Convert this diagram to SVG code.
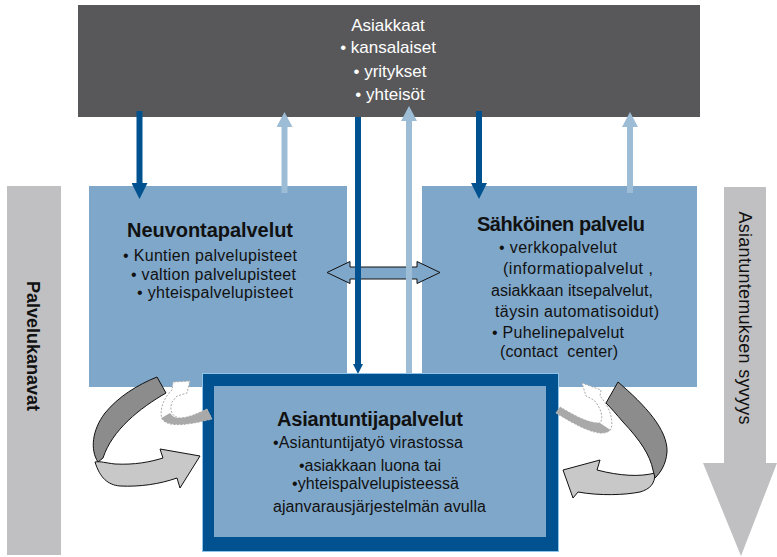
<svg xmlns="http://www.w3.org/2000/svg" width="777" height="557" viewBox="0 0 777 557">
<defs>
<style>
.t{font-family:"Liberation Sans",Arial,sans-serif;fill:#111}
.w{font-family:"Liberation Sans",Arial,sans-serif;fill:#fff;font-size:17px;text-anchor:middle}
.b{font-weight:bold;font-size:20px}
.r{font-size:16px}
.box{fill:#7fa7c9}
.dk{stroke:#00518f;stroke-width:6;fill:none}
.lt{stroke:#9dbcd6;stroke-width:6;fill:none}
.cd{fill:#8c8c8c;stroke:#111;stroke-width:1}
.cl{fill:#c8c8c8;stroke:#111;stroke-width:1}
.sw{fill:#fff;stroke:#aaa;stroke-width:1;stroke-dasharray:2 1.5}
.sg{fill:#a9a9a9}
</style>
<marker id="hd" markerUnits="userSpaceOnUse" markerWidth="16" markerHeight="16" viewBox="0 0 16 16" refX="1" refY="8" orient="auto"><path d="M0,0 L16,8 L0,16 Z" fill="#00518f"/></marker>
<marker id="hs" markerUnits="userSpaceOnUse" markerWidth="10" markerHeight="10" viewBox="0 0 10 10" refX="1" refY="5" orient="auto"><path d="M0,0 L10,5 L0,10 Z" fill="#00518f"/></marker>
<marker id="hl" markerUnits="userSpaceOnUse" markerWidth="15" markerHeight="16" viewBox="0 0 15 16" refX="1" refY="8" orient="auto"><path d="M0,0 L15,8 L0,16 Z" fill="#9dbcd6"/></marker>
</defs>

<g id="palvelukanavat">
<rect x="7" y="186" width="54" height="369" fill="#c0c0c2"/>
<text class="t" font-weight="bold" font-size="18" text-anchor="middle" transform="translate(33,346) rotate(90)" x="0" y="6">Palvelukanavat</text>
</g>

<g id="syvyys">
<path d="M724,187 L766,187 L766,463 L777,463 L741,556 L703,463 L724,463 Z" fill="#c0c0c2"/>
<text class="t" font-size="18" text-anchor="middle" textLength="213" transform="translate(745,318) rotate(90)" x="0" y="6">Asiantuntemuksen syvyys</text>
</g>

<g id="asiakkaat">
<rect x="78" y="5" width="622" height="112" fill="#58585a"/>
<text class="w" x="388" y="31">Asiakkaat</text>
<text class="w" x="388" y="53">• kansalaiset</text>
<text class="w" x="390" y="77">• yritykset</text>
<text class="w" x="390" y="100">• yhteisöt</text>
</g>

<g id="neuvontapalvelut">
<rect class="box" x="89" y="186" width="258" height="201"/>
<text class="t b" x="127" y="237" textLength="166">Neuvontapalvelut</text>
<text class="t r" x="123" y="261" textLength="174">• Kuntien palvelupisteet</text>
<text class="t r" x="131" y="280" textLength="165">• valtion palvelupisteet</text>
<text class="t r" x="137" y="298" textLength="156">• yhteispalvelupisteet</text>
</g>

<g id="sahkoinen">
<rect class="box" x="422" y="186" width="275" height="201"/>
<text class="t b" x="477" y="231" textLength="168">Sähköinen palvelu</text>
<text class="t r" x="499" y="253" textLength="118">• verkkopalvelut</text>
<text class="t r" x="503" y="274" textLength="150">(informatiopalvelut ,</text>
<text class="t r" x="491" y="296" textLength="162">asiakkaan itsepalvelut,</text>
<text class="t r" x="495" y="317" textLength="164">täysin automatisoidut)</text>
<text class="t r" x="492" y="338" textLength="132">• Puhelinepalvelut</text>
<text class="t r" x="500" y="357" textLength="118" style="white-space:pre">(contact  center)</text>
</g>

<g id="connectors">
<path d="M327,272.5 L350,261.5 L350,267 L417,267 L417,261.5 L440,272.5 L417,283.5 L417,279 L350,279 L350,283.5 Z" fill="#7fa7c9" stroke="#111" stroke-width="1"/>
<line class="dk" x1="139.5" y1="111" x2="139.5" y2="184" marker-end="url(#hd)"/>
<line class="lt" x1="284.5" y1="193" x2="284.5" y2="126" marker-end="url(#hl)"/>
<line class="dk" x1="358" y1="117" x2="358" y2="365" marker-end="url(#hs)"/>
<line class="lt" x1="409" y1="374" x2="409" y2="120" marker-end="url(#hl)"/>
<line class="dk" x1="479" y1="111" x2="479" y2="184" marker-end="url(#hd)"/>
<line class="lt" x1="630" y1="193" x2="630" y2="126" marker-end="url(#hl)"/>
</g>

<g id="asiantuntijapalvelut">
<rect x="202.5" y="373.5" width="356" height="178" fill="#00518f" stroke="#8ec3ea" stroke-width="1"/>
<rect class="box" x="214" y="386" width="332" height="151"/>
<text class="t b" x="277" y="426" textLength="186">Asiantuntijapalvelut</text>
<text class="t r" x="273" y="448" textLength="190">•Asiantuntijatyö virastossa</text>
<text class="t r" x="299" y="471" textLength="142">•asiakkaan luona tai</text>
<text class="t r" x="292" y="489" textLength="167">•yhteispalvelupisteessä</text>
<text class="t r" x="273" y="512" textLength="213">ajanvarausjärjestelmän avulla</text>
</g>

<g id="kierto-vasen">
<path class="cd" d="M157,377 L166,393 C140,408 112,430 103,458 L98,462 C90,450 92,430 105,413 C118,397 137,385 157,377 Z"/>
<path class="cl" d="M95,462 C100,461 106,463 115,464 C135,465 150,462 163,458 L160,449 L200,456 L180,488 L177,478 C160,484 140,487 120,486 C108,485 100,478 95,462 Z"/>
<path class="sw" d="M207,409 C197,414 187,418 180,418 C172,417 169,410 172,402 L177,396 L187,393 L190,381 L173,382 L172,390 C164,397 159,410 162,419 C167,426 180,427 212,419 Z"/>
<path class="sg" d="M207,409 C197,414 187,418 180,418 C175,418 172,416 170,413 L161.5,418 C166,426 180,427 212,419 Z"/>
</g>

<g id="kierto-oikea">
<path class="cl" d="M655,473 C640,477 620,476 597,470 L600,460 L563,470 L573,498 L578,492 C600,496 625,495 640,492 C650,489 655,484 655,473 Z"/>
<path class="cd" d="M618,382 C645,405 668,430 667,452 C666,465 660,473 655,478 L653,470 C650,455 640,440 623,422 C617,415 611,408 606,403 Z"/>
<path class="sw" d="M556,413 L560,407 C575,416 590,424 600,423 C604,418 601,408 594,400 L586,396 L582,383 L601,390 L600,396 C609,406 614,420 611,429 C605,437 590,434 556,413 Z"/>
<path class="sg" d="M556,413 L560,407 C575,416 588,423 600,423 L610.5,430 C604,436 590,434 556,413 Z"/>
</g>
</svg>
